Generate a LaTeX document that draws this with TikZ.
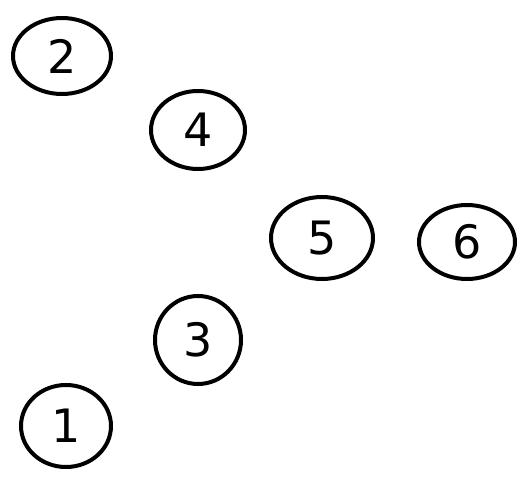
\documentclass[tikz,border=0pt]{standalone}
\usepackage{fontspec}
\setmainfont{DejaVu Sans}
\usetikzlibrary{shapes.geometric}
\begin{document}
\begin{tikzpicture}[x=1pt,y=-1pt,
  num/.style={draw=black, line width=4pt, ellipse, inner sep=0pt,
    font=\fontsize{46}{46}\selectfont}]
\useasboundingbox (0,0) rectangle (531,492);
\node[num, minimum width=98pt, minimum height=76pt] (n2) at (62,56) {2};
\node[num, minimum width=94pt, minimum height=78pt] (n4) at (198,130) {4};
\node[num, minimum width=102pt, minimum height=82pt] (n5) at (322,238) {5};
\node[num, minimum width=96pt, minimum height=74pt] (n6) at (467,242) {6};
\node[num, minimum width=86pt, minimum height=88pt] (n3) at (198,340) {3};
\node[num, minimum width=90pt, minimum height=82pt] (n1) at (66,426) {1};
\end{tikzpicture}
\end{document}
